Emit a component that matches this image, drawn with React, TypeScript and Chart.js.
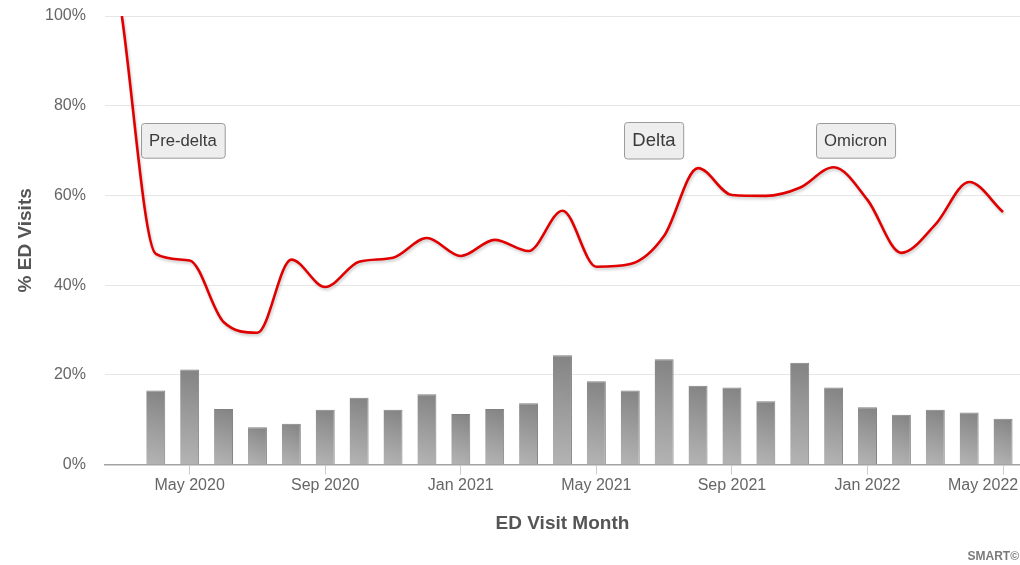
import React, { useEffect, useRef } from "react";
import { Chart, registerables } from "chart.js";

Chart.register(...registerables);

// ---------- data ----------
const months = [
  "Mar 2020", "Apr 2020", "May 2020", "Jun 2020", "Jul 2020", "Aug 2020", "Sep 2020",
  "Oct 2020", "Nov 2020", "Dec 2020", "Jan 2021", "Feb 2021", "Mar 2021", "Apr 2021",
  "May 2021", "Jun 2021", "Jul 2021", "Aug 2021", "Sep 2021", "Oct 2021", "Nov 2021",
  "Dec 2021", "Jan 2022", "Feb 2022", "Mar 2022", "Apr 2022", "May 2022",
];

const labeledMonths = ["May 2020", "Sep 2020", "Jan 2021", "May 2021", "Sep 2021", "Jan 2022", "May 2022"];

// red spline: share of ED visits (%)
const lineValues = [
  100, 47, 45.5, 31.8, 29.4, 45.7, 39.6, 45.2, 46.1, 50.5, 46.5, 50.1, 47.6, 56.6,
  44.1, 44.7, 51, 66.1, 60.1, 59.9, 61.7, 66.3, 59, 47.2, 53.5, 63, 56.3,
];

// grey bars (%)
const barValues = [
  null, 16.5, 21.2, 12.4, 8.3, 9.1, 12.2, 14.9, 12.2, 15.7, 11.3, 12.4, 13.7, 24.4,
  18.6, 16.5, 23.5, 17.6, 17.2, 14.1, 22.7, 17.2, 12.8, 11.1, 12.2, 11.6, 10.2,
];

const yTickValues = [0, 20, 40, 60, 80, 100];

// variant annotations, anchored in data coordinates (category position, % value)
const annotationTexts = ["Pre-delta", "Delta", "Omicron"];
const annotationCategory = [1.8, 15.7, 21.65];
const annotationValue = [72.3, 72.3, 72.3];

// ---------- styles ----------
const FONT = "'Liberation Sans', Arial, Helvetica, sans-serif";
const annotationFontSize = [16.7, 18.5, 16.7];

const annotationPlugin = {
  id: "variantBoxes",
  afterDraw(chart: any) {
    const { ctx, scales } = chart;
    annotationTexts.forEach((text, i) => {
      const cx = scales.x.getPixelForValue(annotationCategory[i]);
      const cy = scales.y.getPixelForValue(annotationValue[i]);
      const size = annotationFontSize[i];
      ctx.save();
      ctx.font = `${size}px ${FONT}`;
      const w = ctx.measureText(text).width + 16;
      const h = size + 18;
      const x = Math.round(cx - w / 2) + 0.5;
      const y = Math.round(cy - h / 2) + 0.5;
      ctx.beginPath();
      if (ctx.roundRect) ctx.roundRect(x, y, w, h, 3);
      else ctx.rect(x, y, w, h);
      ctx.fillStyle = "#eeeeee";
      ctx.fill();
      ctx.lineWidth = 1;
      ctx.strokeStyle = "#9a9a9a";
      ctx.stroke();
      ctx.fillStyle = "#3a3a3a";
      ctx.textAlign = "center";
      ctx.textBaseline = "middle";
      ctx.fillText(text, cx, cy + 1);
      ctx.restore();
    });
  },
};

const shadowPlugin = {
  id: "lineShadow",
  beforeDatasetDraw(chart: any, args: any) {
    if (args.index !== 0) return;
    const ctx = chart.ctx;
    ctx.save();
    ctx.shadowColor = "rgba(0,0,0,0.22)";
    ctx.shadowBlur = 3;
    ctx.shadowOffsetX = 1;
    ctx.shadowOffsetY = 2;
  },
  afterDatasetDraw(chart: any, args: any) {
    if (args.index !== 0) return;
    chart.ctx.restore();
  },
};

export default function App() {
  const canvasRef = useRef<HTMLCanvasElement | null>(null);

  useEffect(() => {
    if (!canvasRef.current) return;
    const chart = new Chart(canvasRef.current, {
      type: "bar",
      data: {
        labels: months,
        datasets: [
          {
            type: "line",
            label: "Share",
            data: lineValues,
            borderColor: "#e00000",
            borderWidth: 2.6,
            pointRadius: 0,
            cubicInterpolationMode: "monotone",
            fill: false,
            order: 0,
          } as any,
          {
            type: "bar",
            label: "Visits",
            data: barValues,
            backgroundColor: (c: any) => {
              const ch = c.chart;
              const { ctx, chartArea, scales } = ch;
              if (!chartArea || c.type !== "data" || c.raw == null || !scales.x) return "#999999";
              const x = scales.x.getPixelForValue(c.dataIndex);
              const top = scales.y.getPixelForValue(c.raw);
              const bottom = scales.y.getPixelForValue(0);
              const g = ctx.createLinearGradient(x - 9, bottom, x + 9, top);
              g.addColorStop(0, "#b4b4b4");
              g.addColorStop(0.5, "#9c9c9c");
              g.addColorStop(1, "#838383");
              return g;
            },
            borderColor: "#808080",
            borderWidth: { top: 1, left: 0, right: 1, bottom: 0 },
            borderSkipped: "bottom",
            barPercentage: 0.56,
            categoryPercentage: 1,
            order: 1,
          } as any,
        ],
      },
      options: {
        animation: false,
        responsive: false,
        maintainAspectRatio: false,
        layout: { padding: { top: 16, left: 0, right: 0, bottom: 20 } },
        plugins: {
          legend: { display: false },
          tooltip: { enabled: false },
        },
        scales: {
          x: {
            offset: true,
            grid: {
              offset: false,
              drawOnChartArea: false,
              drawTicks: true,
              tickLength: 10,
              color: (c: any) =>
                c.index != null && labeledMonths.includes(months[c.index]) ? "#cccccc" : "rgba(0,0,0,0)",
            },
            border: { display: true, color: "#a3a3a3", width: 1.5 },
            ticks: {
              autoSkip: false,
              maxRotation: 0,
              minRotation: 0,
              padding: 1,
              color: "#666666",
              font: { family: FONT, size: 16 },
              callback: (_v: any, index: number) => {
                const m = months[index];
                if (!labeledMonths.includes(m)) return "";
                return index === months.length - 1 ? m + "\u0020".repeat(9) : m;
              },
            },
            afterFit: (scale: any) => {
              scale.paddingRight = 0;
              scale.paddingLeft = 0;
            },
            title: {
              display: true,
              text: "ED Visit Month",
              color: "#555555",
              font: { family: FONT, size: 19, weight: "bold" },
              padding: { top: 16.4, bottom: 10 },
            },
          },
          y: {
            min: 0,
            max: 100,
            afterBuildTicks: (scale: any) => {
              scale.ticks = yTickValues.map((v) => ({ value: v }));
            },
            grid: {
              color: "#e6e6e6",
              lineWidth: 1,
              drawTicks: true,
              tickLength: 15,
              tickColor: "rgba(0,0,0,0)",
            },
            border: { display: false },
            ticks: {
              padding: 4,
              color: "#666666",
              font: { family: FONT, size: 16 },
              callback: (v: any) => `${v}%`,
            },
            title: {
              display: true,
              text: "% ED Visits",
              color: "#555555",
              font: { family: FONT, size: 19, weight: "bold" },
              padding: { top: 14.6, bottom: 3.6 },
            },
          },
        },
      },
      plugins: [shadowPlugin, annotationPlugin],
    });
    return () => chart.destroy();
  }, []);

  return (
    <div style={{ position: "absolute", left: 0, top: 0, width: 1020, height: 565, background: "#ffffff" }}>
      <canvas ref={canvasRef} width={1020} height={565} style={{ width: 1020, height: 565, display: "block" }} />
      <div
        style={{
          position: "absolute",
          right: 1,
          top: 548,
          fontFamily: FONT,
          fontWeight: "bold",
          fontSize: 12,
          lineHeight: "16px",
          color: "#7a7a7a",
        }}
      >
        SMART©
      </div>
    </div>
  );
}
